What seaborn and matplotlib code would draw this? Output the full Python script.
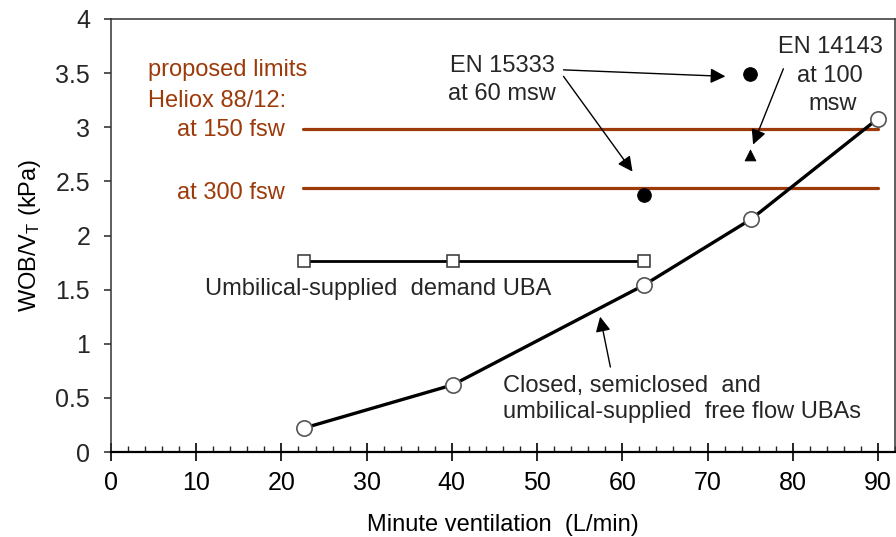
import matplotlib
matplotlib.use("Agg")
import matplotlib.pyplot as plt
from matplotlib.ticker import MultipleLocator
import seaborn as sns

# Work of breathing per tidal volume vs minute ventilation
vent_free = [22.6, 40.1, 62.5, 75.1, 90.0]
wob_free = [0.22, 0.62, 1.54, 2.15, 3.08]

vent_demand = [22.6, 40.1, 62.5]
wob_demand = [1.76, 1.76, 1.76]

# Proposed limits, Heliox 88/12
limit_x = [22.5, 90.0]
limit_150fsw = 2.98
limit_300fsw = 2.44

# Standard limits
en15333_x = [75.0, 62.5]
en15333_y = [3.49, 2.37]
en14143_x = [75.0]
en14143_y = [2.74]

x_ticks = list(range(0, 91, 10))
y_ticks = [0, 0.5, 1, 1.5, 2, 2.5, 3, 3.5, 4]

sns.set_theme(style="white")
plt.rcParams["font.family"] = ["Liberation Sans", "DejaVu Sans"]
plt.rcParams["mathtext.fontset"] = "custom"
plt.rcParams["mathtext.rm"] = "Liberation Sans"
plt.rcParams["mathtext.it"] = "Liberation Sans"

BROWN = "#9c3a0a"
TXT = 17

fig = plt.figure(figsize=(8.96, 5.37), dpi=100)
ax = fig.add_axes([111 / 896, 1 - 452 / 537, (895 - 111) / 896, (452 - 19) / 537])

# limit lines
sns.lineplot(x=limit_x, y=[limit_150fsw] * 2, color=BROWN, lw=2.3, ax=ax, zorder=2)
sns.lineplot(x=limit_x, y=[limit_300fsw] * 2, color=BROWN, lw=2.3, ax=ax, zorder=2)

# demand UBA
sns.lineplot(x=vent_demand, y=wob_demand, color="black", lw=2.0, marker="s",
             markersize=9, markerfacecolor="white", markeredgecolor="#333333",
             markeredgewidth=1.1, ax=ax, zorder=3)

# free flow UBAs
sns.lineplot(x=vent_free, y=wob_free, color="black", lw=2.4, marker="o",
             markersize=11, markerfacecolor="white", markeredgecolor="#555555",
             markeredgewidth=1.2, ax=ax, zorder=4)

# standard points
sns.scatterplot(x=en15333_x, y=en15333_y, color="black", marker="o", s=95,
                edgecolor="black", ax=ax, zorder=5)
sns.scatterplot(x=en14143_x, y=en14143_y, color="black", marker="^", s=60,
                edgecolor="black", ax=ax, zorder=5)

ax.set_xlim(0, 92)
ax.set_ylim(0, 4)
ax.set_xticks(x_ticks)
ax.set_yticks(y_ticks)
ax.set_yticklabels([f"{v:g}" for v in y_ticks])
ax.xaxis.set_minor_locator(MultipleLocator(2))

ax.tick_params(axis="x", which="major", direction="inout", length=13, width=1.2,
               labelsize=18, pad=7, bottom=True, colors="black")
ax.tick_params(axis="x", which="minor", direction="in", length=4, width=1.0, bottom=True)
ax.tick_params(axis="y", which="major", direction="out", length=5, width=1.1,
               labelsize=18, pad=10, left=True)

for side in ["top", "right", "left"]:
    ax.spines[side].set_color("#333333")
    ax.spines[side].set_linewidth(1.1)
ax.spines["bottom"].set_color("black")
ax.spines["bottom"].set_linewidth(1.6)

ax.set_xlabel("Minute ventilation  (L/min)", fontsize=17, labelpad=14, color="black")
ax.set_ylabel(r"WOB/V$_{\mathrm{T}}$ (kPa)", fontsize=17, labelpad=9, color="black")
ax.grid(False)

# brown labels for the limits
ax.text(4.3, 3.47, "proposed limits", color=BROWN, fontsize=TXT, va="baseline")
ax.text(4.3, 3.19, "Heliox 88/12:", color=BROWN, fontsize=TXT, va="baseline")
ax.text(20.4, 2.92, "at 150 fsw", color=BROWN, fontsize=TXT, va="baseline", ha="right")
ax.text(20.4, 2.34, "at 300 fsw", color=BROWN, fontsize=TXT, va="baseline", ha="right")

# series labels
ax.text(11.0, 1.45, "Umbilical-supplied  demand UBA", fontsize=TXT, va="baseline")
ax.text(46.0, 0.554, "Closed, semiclosed  and", fontsize=TXT, va="baseline")
ax.text(46.0, 0.31, "umbilical-supplied  free flow UBAs", fontsize=TXT, va="baseline")

# standards labels
ax.text(45.9, 3.51, "EN 15333", fontsize=TXT, va="baseline", ha="center")
ax.text(45.9, 3.25, "at 60 msw", fontsize=TXT, va="baseline", ha="center")
ax.text(84.4, 3.686, "EN 14143", fontsize=TXT, va="baseline", ha="center")
ax.text(84.3, 3.42, "at 100", fontsize=TXT, va="baseline", ha="center")
ax.text(84.7, 3.16, "msw", fontsize=TXT, va="baseline", ha="center")

arrow = dict(arrowstyle="-|>,head_length=0.6,head_width=0.3", color="black",
             lw=1.0, mutation_scale=15, shrinkA=0, shrinkB=0)
ax.annotate("", xy=(72.1, 3.47), xytext=(53.1, 3.53), arrowprops=arrow, zorder=6)
ax.annotate("", xy=(61.2, 2.59), xytext=(53.1, 3.47), arrowprops=arrow, zorder=6)
ax.annotate("", xy=(75.35, 2.84), xytext=(78.9, 3.54), arrowprops=arrow, zorder=6)
ax.annotate("", xy=(57.4, 1.25), xytext=(58.6, 0.785), arrowprops=arrow, zorder=6)

fig.savefig("out.png", dpi=100)
